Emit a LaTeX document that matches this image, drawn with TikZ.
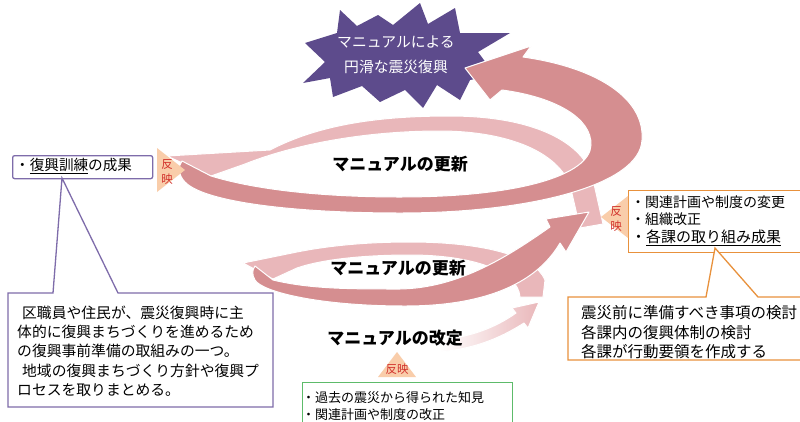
\documentclass[tikz,border=0pt]{standalone}
\usepackage{fontspec}
\setmainfont{Noto Sans CJK JP}
\definecolor{darkp}{HTML}{D58E90}
\definecolor{lightp}{HTML}{E9B7BA}
\definecolor{starp}{HTML}{5D4B8C}
\definecolor{pborder}{HTML}{7E6CAA}
\definecolor{oborder}{HTML}{E8913C}
\definecolor{gborder}{HTML}{5DBB6A}
\definecolor{peach}{HTML}{F9CDAA}
\definecolor{hanred}{HTML}{D2312C}
\tikzset{
  band/.style={draw=white, line width=1pt, line join=round},
  darkband/.style={band, fill=darkp},
  lightband/.style={band, fill=lightp},
  tri/.style={fill=peach},
  han/.style={text=hanred, font=\fontsize{11.5}{13}\selectfont, inner sep=0pt},
  ttl/.style={font=\bfseries\fontsize{17}{20}\selectfont, inner sep=0pt},
  txt/.style={inner sep=0pt, align=left},
}
\begin{document}
\begin{tikzpicture}[x=1pt,y=-1pt]
\useasboundingbox[fill=white] (0,0) rectangle (800,421);

% starburst
\path[fill=starp] (340,10) -- (357,26) -- (378,15) -- (393,25) -- (420,3) -- (428,24) -- (455,8) -- (460,33) -- (510,33) -- (478,52) -- (495,75) -- (470,80) -- (460,100) -- (437,85) -- (423,108) -- (405,90) -- (380,102) -- (362,86) -- (333,97) -- (330,78) -- (303,83) -- (325,62) -- (305,43) -- (337,33) -- cycle;
\node[txt, align=center, text=white, font=\fontsize{14.8}{25}\selectfont] (goal) at (396,55) {マニュアルによる\\円滑な震災復興};

% light (back) bands
\path[lightband] (270,150) .. controls (320,124) and (380,116) .. (450,116) .. controls (530,116) and (580,140) .. (592,175) -- (603,224) -- (580,228) -- (570,185) .. controls (555,148) and (500,131) .. (440,131) .. controls (360,131) and (290,146) .. (245,164) -- (211,176) -- (167,156) -- cycle;
\path[lightband] (292,253) .. controls (330,245) and (370,242) .. (410,242) .. controls (480,242) and (535,255) .. (545,280) -- (543,297) -- (520,297) .. controls (518,270) and (470,255) .. (410,255) .. controls (360,255) and (320,260) .. (297,268) -- (273,279) -- (243,263) -- cycle;
\path[band, left color=white, right color=lightp] (440,352) .. controls (480,348) and (505,335) .. (524,323) -- (528,328) -- (539,302) -- (512,308) -- (516,313) .. controls (495,328) and (470,337) .. (440,340) -- cycle;

% dark (front) bands
\path[darkband] (255,266) -- (273,280) .. controls (310,289) and (350,289) .. (400,289) .. controls (460,288) and (510,255) .. (550,227) -- (546,219) -- (589,212) -- (566,252) -- (560,243) .. controls (535,286) and (480,306) .. (405,306) .. controls (320,306) and (262,292) .. (255,280) .. controls (252,275) and (252,270) .. (255,266) -- cycle;
\path[darkband] (182,161) -- (211,176) .. controls (260,191) and (330,197) .. (400,197) .. controls (520,197) and (590,175) .. (591,145) .. controls (592,118) and (555,97) .. (502,90) -- (490,100) -- (465,68) -- (531,46) -- (523,57) .. controls (600,68) and (645,100) .. (642,140) .. controls (640,185) and (530,213) .. (400,213) .. controls (300,213) and (205,203) .. (185,182) .. controls (178,175) and (178,166) .. (182,161) -- cycle;

% titles
\node[ttl] (upd1) at (400,164) {マニュアルの更新};
\node[ttl] (upd2) at (398,268) {マニュアルの更新};
\node[ttl] (kaitei) at (395,338) {マニュアルの改定};

% left small box
\node[draw=pborder, line width=1.3pt, rounded corners=2pt, fill=white, minimum width=140pt, minimum height=23pt, anchor=north west, inner sep=0pt] (kunren) at (12,155) {};
\node[txt, anchor=west, font=\fontsize{14.6}{17}\selectfont] (kunrenT) at (15,166) {・\underline{復興訓練}の成果};
\path[tri] (157,148) -- (185,170) -- (157,192) -- cycle;
\node[han] (hanL1) at (167,164) {反};
\node[han] (hanL2) at (167,179) {映};

% purple callout
\path[draw=pborder, line width=1.3pt, fill=white, line join=miter] (8,293) -- (53,293) -- (62,178) -- (118,293) -- (273,293) -- (273,407) -- (8,407) -- cycle;
\node[txt, anchor=north west, font=\fontsize{14.8}{19.3}\selectfont] (kuT) at (17,305.6) {\hspace{5pt}区職員や住民が、震災復興時に主\\体的に復興まちづくりを進めるため\\の復興事前準備の取組みの一つ。\\\hspace{5pt}地域の復興まちづくり方針や復興プ\\ロセスを取りまとめる。};

% right upper box
\node[draw=oborder, line width=1.3pt, fill=white, minimum width=200pt, minimum height=62pt, anchor=north west, inner sep=0pt] (kanren) at (628,190) {};
\node[txt, anchor=north west, font=\fontsize{14}{17}\selectfont] (kanrenT) at (631,196) {・関連計画や制度の変更\\・組織改正\\[1pt]{\fontsize{15}{17}\selectfont ・\underline{各課の取り組み成果}}};
\path[tri] (628,196) -- (601,217) -- (628,238) -- cycle;
\node[han] (hanR1) at (616,211) {反};
\node[han] (hanR2) at (616,226) {映};

% orange callout
\path[draw=oborder, line width=1.3pt, fill=white, line join=miter] (568,297) -- (706,297) -- (715,248) -- (758,297) -- (810,297) -- (810,360) -- (568,360) -- cycle;
\node[txt, anchor=north west, font=\fontsize{15.5}{19.5}\selectfont] (kaT) at (581,305.3) {震災前に準備すべき事項の検討\\各課内の復興体制の検討\\各課が行動要領を作成する};

% bottom
\path[tri] (378,377) -- (397,352) -- (416,377) -- cycle;
\node[han] (hanB) at (397,369) {反映};
\node[draw=gborder, line width=1.3pt, fill=white, minimum width=210pt, minimum height=60pt, anchor=north west, inner sep=0pt] (kako) at (302,382) {};
\node[txt, anchor=north west, font=\fontsize{13}{17}\selectfont] (kakoT) at (302,391) {・過去の震災から得られた知見\\・関連計画や制度の改正};
\end{tikzpicture}
\end{document}
